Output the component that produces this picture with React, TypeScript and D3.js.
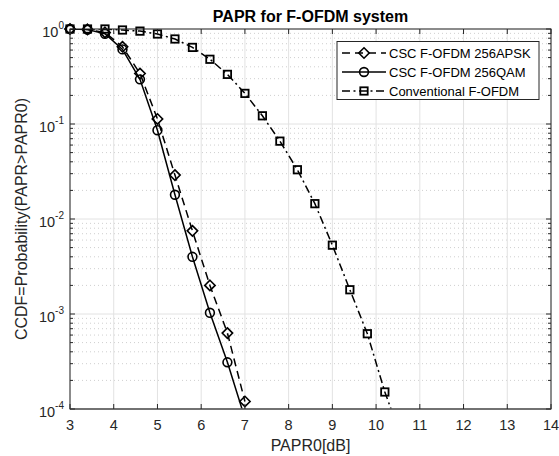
import React from "react";
import * as d3 from "d3";

const titleText = "PAPR for F-OFDM system";
const xLabel = "PAPR0[dB]";
const yLabel = "CCDF=Probability(PAPR>PAPR0)";

const xTicks = [3, 4, 5, 6, 7, 8, 9, 10, 11, 12, 13, 14];
const yExps = [0, -1, -2, -3, -4];

const apskX = [3, 3.4, 3.8, 4.2, 4.6, 5, 5.4, 5.8, 6.2, 6.6, 7];
const apskY = [1.0, 0.99, 0.92, 0.65, 0.34, 0.113, 0.029, 0.0075, 0.002, 0.00063, 0.00012];

const qamX = [3, 3.4, 3.8, 4.2, 4.6, 5, 5.4, 5.8, 6.2, 6.6, 7];
const qamY = [1.0, 0.985, 0.89, 0.61, 0.295, 0.086, 0.018, 0.004, 0.00103, 0.00031, 0.00008];

const convX = [3, 3.4, 3.8, 4.2, 4.6, 5, 5.4, 5.8, 6.2, 6.6, 7, 7.4, 7.8, 8.2, 8.6, 9, 9.4, 9.8, 10.2, 10.6];
const convY = [1.0, 1.0, 1.0, 0.976, 0.95, 0.886, 0.785, 0.64, 0.48, 0.333, 0.21, 0.122, 0.066, 0.033, 0.0145, 0.0053, 0.0018, 0.00062, 0.000151, 0.000047];

const seriesNames = ["CSC F-OFDM 256APSK", "CSC F-OFDM 256QAM", "Conventional F-OFDM"];

const L = 70, R = 551, T = 29, B = 409;
const FONT = "'Liberation Sans', Arial, Helvetica, sans-serif";
const AX = "#262626";

type Marker = "diamond" | "circle" | "square";

function MarkerShape({ type, cx, cy }: { type: Marker; cx: number; cy: number }) {
  const sw = 1.6;
  if (type === "diamond") {
    const r = 5.2;
    return (
      <path
        d={`M${cx},${cy - r}L${cx + r},${cy}L${cx},${cy + r}L${cx - r},${cy}Z`}
        fill="none"
        stroke="#000"
        strokeWidth={sw}
      />
    );
  }
  if (type === "circle") {
    return <circle cx={cx} cy={cy} r={4.4} fill="none" stroke="#000" strokeWidth={sw} />;
  }
  const s = 3.7;
  return <rect x={cx - s} y={cy - s} width={2 * s} height={2 * s} fill="none" stroke="#000" strokeWidth={1.8} />;
}

export default function App() {
  const x = d3.scaleLinear().domain([3, 14]).range([L, R]);
  const y = d3.scaleLog().domain([1e-4, 1]).range([B, T]);

  const series = [
    { xs: apskX, ys: apskY, marker: "diamond" as Marker, dash: "8,5" },
    { xs: qamX, ys: qamY, marker: "circle" as Marker, dash: undefined },
    { xs: convX, ys: convY, marker: "square" as Marker, dash: "8,3.5,2,3.5" },
  ];

  const line = d3
    .line<[number, number]>()
    .x((d) => x(d[0]))
    .y((d) => y(d[1]));

  const minorVals: number[] = [];
  for (let e = -4; e < 0; e++) {
    for (let m = 2; m <= 9; m++) minorVals.push(m * Math.pow(10, e));
  }

  return (
    <svg
      width={559}
      height={456}
      style={{ position: "absolute", left: 0, top: 0, background: "#fff" }}
      fontFamily={FONT}
    >
      <rect x={0} y={0} width={559} height={456} fill="#fff" />
      <defs>
        <clipPath id="plotClip">
          <rect x={L} y={T} width={R - L} height={B - T} />
        </clipPath>
      </defs>
      {/* minor grid */}
      {minorVals.map((v, i) => (
        <line key={"mg" + i} x1={L} x2={R} y1={y(v)} y2={y(v)} stroke="#cfcfcf" strokeWidth={1} strokeDasharray="1,3" />
      ))}
      {/* major grid */}
      {xTicks.map((t) => (
        <line key={"gx" + t} x1={x(t)} x2={x(t)} y1={T} y2={B} stroke="#e2e2e2" strokeWidth={1} />
      ))}
      {yExps.map((e) => (
        <line key={"gy" + e} x1={L} x2={R} y1={y(Math.pow(10, e))} y2={y(Math.pow(10, e))} stroke="#e2e2e2" strokeWidth={1} />
      ))}

      {/* series lines */}
      <g clipPath="url(#plotClip)">
        {series.map((s, i) => (
          <path
            key={"l" + i}
            d={line(s.xs.map((v, j) => [v, s.ys[j]] as [number, number])) || ""}
            fill="none"
            stroke="#000"
            strokeWidth={1.5}
            strokeDasharray={s.dash}
          />
        ))}
      </g>
      {/* markers */}
      {series.map((s, i) =>
        s.xs.map((v, j) =>
          s.ys[j] >= 1e-4 ? (
            <MarkerShape key={`m${i}-${j}`} type={s.marker} cx={x(v)} cy={y(s.ys[j])} />
          ) : null
        )
      )}

      {/* axes box */}
      <rect x={L} y={T} width={R - L} height={B - T} fill="none" stroke={AX} strokeWidth={1} />
      <line x1={L} x2={R} y1={B} y2={B} stroke="#6a6a6a" strokeWidth={1.6} />
      {/* x ticks */}
      {xTicks.map((t) => (
        <g key={"xt" + t}>
          <line x1={x(t)} x2={x(t)} y1={B} y2={B - 5} stroke={AX} />
          <line x1={x(t)} x2={x(t)} y1={T} y2={T + 5} stroke={AX} />
          <text x={x(t)} y={430} textAnchor="middle" fontSize={14.5} fill={AX}>
            {t}
          </text>
        </g>
      ))}
      {/* y ticks */}
      {yExps.map((e) => {
        const yy = y(Math.pow(10, e));
        return (
          <g key={"yt" + e}>
            <line x1={L} x2={L + 5} y1={yy} y2={yy} stroke={AX} />
            <line x1={R} x2={R - 5} y1={yy} y2={yy} stroke={AX} />
            <text x={64} y={yy + 7.5} textAnchor="end" fontSize={14.5} fill={AX}>
              10
              <tspan fontSize={10} dy={-7.5}>
                {e}
              </tspan>
            </text>
          </g>
        );
      })}
      {minorVals.map((v, i) => (
        <g key={"ym" + i}>
          <line x1={L} x2={L + 3} y1={y(v)} y2={y(v)} stroke={AX} />
          <line x1={R} x2={R - 3} y1={y(v)} y2={y(v)} stroke={AX} />
        </g>
      ))}

      {/* title and labels */}
      <text x={(L + R) / 2} y={21.5} textAnchor="middle" fontSize={16} fontWeight="bold" fill="#000">
        {titleText}
      </text>
      <text x={(L + R) / 2} y={451} textAnchor="middle" fontSize={16} fill={AX}>
        {xLabel}
      </text>
      <text
        transform={`translate(27,${(T + B) / 2}) rotate(-90)`}
        textAnchor="middle"
        fontSize={16}
        fill={AX}
      >
        {yLabel}
      </text>

      {/* legend */}
      <rect x={337} y={41.5} width={202} height={58} fill="#fff" stroke={AX} strokeWidth={1} />
      {series.map((s, i) => {
        const ly = 53 + i * 19;
        return (
          <g key={"lg" + i}>
            <line x1={342} x2={386} y1={ly} y2={ly} stroke="#000" strokeWidth={1.5} strokeDasharray={s.dash} />
            <MarkerShape type={s.marker} cx={364} cy={ly} />
            <text x={389} y={ly + 4.5} fontSize={13} fill="#000">
              {seriesNames[i]}
            </text>
          </g>
        );
      })}
    </svg>
  );
}
